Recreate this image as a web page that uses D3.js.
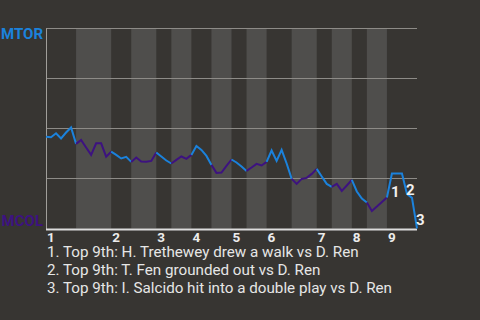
<!DOCTYPE html>
<html>
<head>
    <meta charset="utf-8">
    <title>Win probability</title>
    <script src="https://cdn.jsdelivr.net/npm/d3@7"></script>
    <style>
        body { margin: 0; background: #373532; }
        text { font-family: Roboto, "Noto Sans", sans-serif; }
    </style>
</head>
<body>
    <svg width="480" height="320" id="mainsvg"></svg>
    <script>
        // plate appearances in each half inning (top 1, bottom 1, top 2, ...)
        const halfCounts = [6, 7, 4, 5, 3, 4, 4, 4, 3, 4, 5, 5, 3, 4, 3, 4, 6];
        const innings = ['1', '2', '3', '4', '5', '6', '7', '8', '9'];
        // MTOR win probability after each plate appearance
        const winProb = [
            0.459, 0.456, 0.476, 0.450, 0.480, 0.505, 0.423, 0.443, 0.405, 0.368,
            0.426, 0.426, 0.359, 0.384, 0.368, 0.350, 0.358, 0.333, 0.355, 0.335,
            0.334, 0.338, 0.380, 0.360, 0.340, 0.325, 0.343, 0.360, 0.348, 0.368,
            0.413, 0.393, 0.363, 0.318, 0.278, 0.280, 0.313, 0.345, 0.330, 0.310,
            0.288, 0.305, 0.323, 0.315, 0.333, 0.390, 0.338, 0.393, 0.325, 0.248,
            0.223, 0.248, 0.253, 0.273, 0.298, 0.260, 0.223, 0.208, 0.223, 0.188,
            0.215, 0.243, 0.185, 0.150, 0.130, 0.088, 0.110, 0.133, 0.155, 0.275,
            0.275, 0.275, 0.173, 0.153, 0.0
        ];
        const teams = ['MTOR', 'MCOL'];
        const noteIdx = [69, 72, 74];
        const notes = [
            '1. Top 9th: H. Trethewey drew a walk vs D. Ren',
            '2. Top 9th: T. Fen grounded out vs D. Ren',
            '3. Top 9th: I. Salcido hit into a double play vs D. Ren'
        ];

        const svg = d3.select('svg');
        const blue = '#1b82dc', purple = '#3d1280';
        const bg = '#373532', band = '#4f4e4c';

        const x = d3.scaleLinear().domain([0, winProb.length - 1]).range([46, 417]);
        const y = d3.scaleLinear().domain([0, 1]).range([228.5, 28.5]);

        // half inning start indices
        const halves = [];
        let s = 0;
        halfCounts.forEach((n, i) => { halves.push({ start: s, end: s + n, top: i % 2 === 0, inning: Math.floor(i / 2) }); s += n; });

        svg.append('rect').attr('width', 480).attr('height', 320).attr('fill', bg);

        svg.selectAll('.band').data(halves.filter(h => !h.top)).join('rect').attr('class', 'band')
            .attr('x', d => x(d.start)).attr('width', d => x(d.end) - x(d.start))
            .attr('y', y(1)).attr('height', y(0) - y(1))
            .attr('fill', band);

        svg.selectAll('.grid').data([0.25, 0.5, 0.75, 1]).join('line').attr('class', 'grid')
            .attr('x1', x(0)).attr('x2', x(winProb.length - 1))
            .attr('y1', d => y(d)).attr('y2', d => y(d))
            .attr('stroke', '#8d8b87').attr('stroke-width', 1);

        svg.append('line').attr('x1', 46.5).attr('x2', 46.5).attr('y1', y(1)).attr('y2', 230)
            .attr('stroke', '#a09e9a').attr('stroke-width', 1);
        svg.append('line').attr('x1', 46).attr('x2', x(winProb.length - 1)).attr('y1', 229.5).attr('y2', 229.5)
            .attr('stroke', '#dcdcdc').attr('stroke-width', 2);

        const line = d3.line().x(d => x(d)).y(d => y(winProb[d]));
        svg.selectAll('.wp').data(halves).join('path').attr('class', 'wp')
            .attr('d', d => line(d3.range(d.start, d.end + 1)))
            .attr('fill', 'none')
            .attr('stroke', d => d.top ? blue : purple)
            .attr('stroke-width', 2);

        // team labels
        svg.append('text').attr('x', 43).attr('y', 39).attr('text-anchor', 'end')
            .attr('font-size', 15).attr('font-weight', 'bold').attr('fill', blue).text(teams[0]);
        svg.append('text').attr('x', 43).attr('y', 225.5).attr('text-anchor', 'end')
            .attr('font-size', 15).attr('font-weight', 'bold').attr('fill', purple).text(teams[1]);

        // inning labels
        svg.selectAll('.inn').data(halves.filter(h => h.top)).join('text').attr('class', 'inn')
            .attr('x', d => x(d.start) + 1).attr('y', 242)
            .attr('font-size', 13.5).attr('font-weight', 'bold').attr('fill', '#ececec')
            .text(d => innings[d.inning]);

        // event markers at segment midpoints
        svg.selectAll('.mark').data(noteIdx).join('text').attr('class', 'mark')
            .attr('x', d => (x(d) + x(d - 1)) / 2 + 1.5)
            .attr('y', d => (y(winProb[d]) + y(winProb[d - 1])) / 2 + 11.5)
            .attr('font-size', 15).attr('font-weight', 'bold').attr('fill', '#f0f0f0')
            .text((d, i) => i + 1);

        svg.selectAll('.note').data(notes).join('text').attr('class', 'note')
            .attr('x', 47).attr('y', (d, i) => 257 + i * 18)
            .attr('font-size', 15.2).attr('fill', '#e6e6e6')
            .text(d => d);
    </script>
</body>
</html>
